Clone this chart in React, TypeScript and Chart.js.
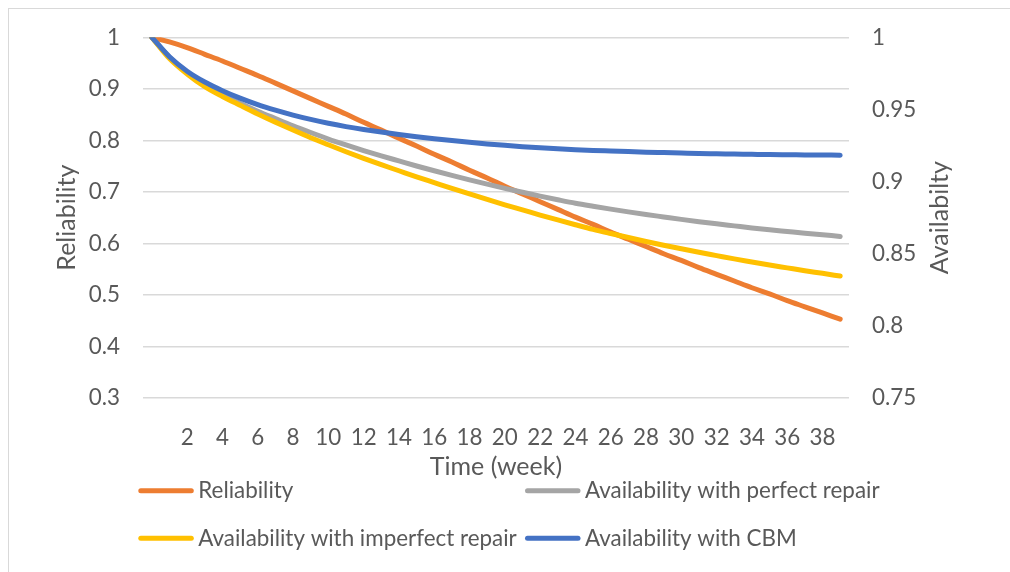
import React, { useEffect, useRef } from "react";
import { Chart, registerables } from "chart.js";

Chart.register(...registerables);

const WEEKS = [
  0, 1, 2, 3, 4, 5, 6, 7, 8, 9, 10, 11, 12, 13, 14, 15, 16, 17, 18, 19,
  20, 21, 22, 23, 24, 25, 26, 27, 28, 29, 30, 31, 32, 33, 34, 35, 36, 37, 38, 39,
];

const RELIABILITY = [
  1.0, 0.991, 0.98, 0.967, 0.954, 0.94, 0.926, 0.911, 0.896, 0.881,
  0.866, 0.851, 0.835, 0.82, 0.804, 0.789, 0.773, 0.758, 0.742, 0.727,
  0.711, 0.696, 0.681, 0.666, 0.651, 0.637, 0.622, 0.608, 0.594, 0.58,
  0.567, 0.553, 0.54, 0.527, 0.514, 0.502, 0.489, 0.477, 0.465, 0.453,
];

const AVAIL_PERFECT = [
  1.0, 0.9862, 0.9757, 0.9672, 0.96, 0.9543, 0.9488, 0.9437, 0.9387, 0.934,
  0.9295, 0.9254, 0.9215, 0.9178, 0.9143, 0.9108, 0.9075, 0.9043, 0.9012, 0.8982,
  0.8953, 0.8926, 0.8899, 0.8874, 0.885, 0.8829, 0.8809, 0.879, 0.8772, 0.8755,
  0.8738, 0.8722, 0.8707, 0.8693, 0.8679, 0.8666, 0.8654, 0.8642, 0.8631, 0.862,
];

const AVAIL_IMPERFECT = [
  1.0, 0.9853, 0.9746, 0.9658, 0.959, 0.9529, 0.9469, 0.9412, 0.9357, 0.9304,
  0.9255, 0.9207, 0.9161, 0.9117, 0.9075, 0.9033, 0.8993, 0.8953, 0.8914, 0.8876,
  0.8839, 0.8804, 0.8768, 0.8734, 0.8701, 0.8669, 0.864, 0.8612, 0.8585, 0.8559,
  0.8534, 0.851, 0.8487, 0.8464, 0.8443, 0.8422, 0.8402, 0.8382, 0.8364, 0.8345,
];

const AVAIL_CBM = [
  1.0, 0.9865, 0.9765, 0.969, 0.963, 0.9578, 0.9533, 0.9495, 0.9461, 0.9431,
  0.9404, 0.9381, 0.9361, 0.9343, 0.9326, 0.9311, 0.9297, 0.9284, 0.9272, 0.9261,
  0.9251, 0.9242, 0.9234, 0.9227, 0.9221, 0.9216, 0.9212, 0.9208, 0.9204, 0.9201,
  0.9198, 0.9195, 0.9193, 0.9191, 0.9189, 0.9187, 0.9186, 0.9185, 0.9184, 0.9183,
];

const SERIES_NAMES = [
  "Reliability",
  "Availability with perfect repair",
  "Availability with imperfect repair",
  "Availability with CBM",
];
const SERIES_COLORS = ["#ED7D31", "#A5A5A5", "#FFC000", "#4472C4"];

const X_TITLE = "Time (week)";
const LEFT_TITLE = "Reliability";
const RIGHT_TITLE = "Availabilty";

const FONT = "Lato, 'Open Sans', sans-serif";
const TEXT = "#595959";

export default function App() {
  const ref = useRef<HTMLCanvasElement>(null);

  useEffect(() => {
    const canvas = ref.current;
    if (!canvas) return;

    const customPlugin = {
      id: "customLegendAndTitle",
      afterDraw(chart: any) {
        const ctx = chart.ctx as CanvasRenderingContext2D;
        const ca = chart.chartArea;
        // right axis title (reads bottom to top)
        ctx.save();
        ctx.fillStyle = TEXT;
        ctx.font = `25px ${FONT}`;
        ctx.textAlign = "center";
        ctx.textBaseline = "middle";
        ctx.translate(ca.right + 91, (ca.top + ca.bottom) / 2);
        ctx.rotate(-Math.PI / 2);
        ctx.fillText(RIGHT_TITLE, 0, 0);
        ctx.restore();

        // legend: 2 columns x 2 rows
        const colX = [129.3, 516];
        const rowY = [481.7, 529.3];
        chart.data.datasets.forEach((ds: any, i: number) => {
          const x = colX[i % 2];
          const y = rowY[Math.floor(i / 2)];
          ctx.save();
          ctx.strokeStyle = ds.borderColor;
          ctx.lineWidth = 5;
          ctx.lineCap = "round";
          ctx.beginPath();
          ctx.moveTo(x + 2.5, y);
          ctx.lineTo(x + 53, y);
          ctx.stroke();
          ctx.fillStyle = TEXT;
          ctx.font = `22.4px ${FONT}`;
          ctx.textAlign = "left";
          ctx.textBaseline = "middle";
          ctx.fillText(ds.label, x + 60, y);
          ctx.restore();
        });
      },
    };

    const fmt = (v: number | string) => String(+Number(v).toFixed(2));

    const datasets = [RELIABILITY, AVAIL_PERFECT, AVAIL_IMPERFECT, AVAIL_CBM].map(
      (data, i) => ({
        label: SERIES_NAMES[i],
        data,
        borderColor: SERIES_COLORS[i],
        backgroundColor: SERIES_COLORS[i],
        borderWidth: 5,
        borderCapStyle: "round" as const,
        borderJoinStyle: "round" as const,
        pointRadius: 0,
        pointHoverRadius: 0,
        cubicInterpolationMode: "monotone" as const,
        fill: false,
        yAxisID: i === 0 ? "y" : "y2",
        order: 4 - i,
      })
    );

    const chart = new Chart(canvas, {
      type: "line",
      data: { labels: WEEKS, datasets },
      plugins: [customPlugin],
      options: {
        animation: false,
        responsive: false,
        devicePixelRatio: 1,
        layout: { padding: { top: 28.3, left: 0, right: 0, bottom: 0 } },
        plugins: {
          legend: { display: false },
          tooltip: { enabled: false },
          title: { display: false },
        },
        scales: {
          x: {
            type: "category",
            offset: true,
            grid: { display: false },
            border: { display: false },
            ticks: {
              autoSkip: false,
              maxRotation: 0,
              minRotation: 0,
              padding: 18,
              color: TEXT,
              font: { family: FONT, size: 22.4 },
              callback: (_v: any, idx: number) =>
                idx > 0 && idx % 2 === 0 ? String(WEEKS[idx]) : "",
            },
            title: {
              display: true,
              text: X_TITLE,
              color: TEXT,
              font: { family: FONT, size: 25 },
              padding: { top: 0, bottom: 90 },
            },
            afterFit: (s: any) => {
              s.height = 174;
              s.paddingLeft = 0;
              s.paddingRight = 0;
            },
          },
          y: {
            type: "linear",
            position: "left",
            min: 0.3,
            max: 1,
            grid: { color: "#D9D9D9", lineWidth: 1.5, drawTicks: false },
            border: { display: false },
            ticks: {
              stepSize: 0.1,
              padding: 23,
              color: TEXT,
              font: { family: FONT, size: 22.4 },
              callback: (v: any) => fmt(v),
            },
            title: {
              display: true,
              text: LEFT_TITLE,
              color: TEXT,
              font: { family: FONT, size: 25 },
              padding: { top: 43, bottom: 0 },
            },
            afterFit: (s: any) => {
              s.width = 134;
              s.paddingTop = 0;
              s.paddingBottom = 0;
            },
          },
          y2: {
            type: "linear",
            position: "right",
            min: 0.75,
            max: 1,
            grid: { display: false, drawTicks: false },
            border: { display: false },
            ticks: {
              stepSize: 0.05,
              padding: 23,
              color: TEXT,
              font: { family: FONT, size: 22.4 },
              callback: (v: any) => fmt(v),
            },
            afterFit: (s: any) => {
              s.width = 161;
              s.paddingTop = 0;
              s.paddingBottom = 0;
            },
          },
        },
      },
    });

    return () => chart.destroy();
  }, []);

  return (
    <div
      style={{
        position: "fixed",
        left: 8,
        top: 8,
        width: 1010,
        height: 600,
        border: "1px solid #D9D9D9",
        background: "#fff",
      }}
    >
      <canvas
        ref={ref}
        width={1001}
        height={563}
        style={{ display: "block", width: 1001, height: 563 }}
      />
    </div>
  );
}
